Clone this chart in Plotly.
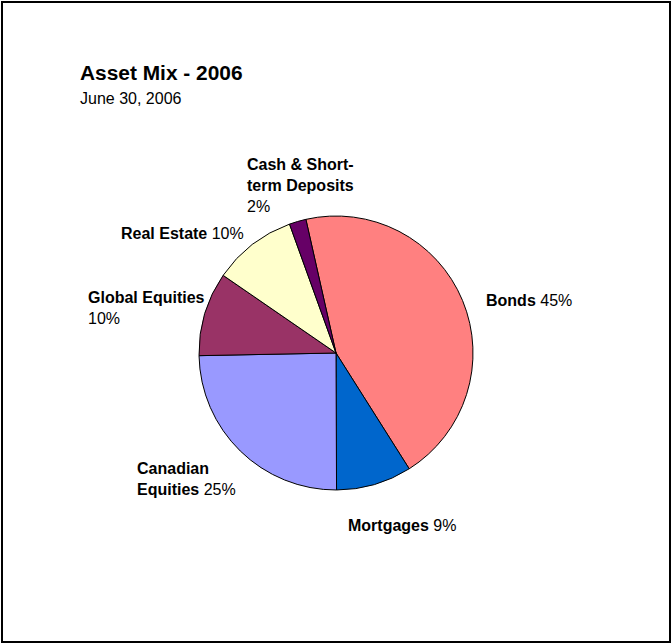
import plotly.graph_objects as go

# Asset mix as of June 30, 2006 (percent of total)
categories = ["Bonds", "Mortgages", "Canadian Equities", "Global Equities",
              "Real Estate", "Cash & Short-term Deposits"]
percentages = [45, 9, 25, 10, 10, 2]
colors = ["#FF8080", "#0066CC", "#9999FF", "#993366", "#FFFFCC", "#660066"]

# Wrapped label lines for each slice, and whether the percentage
# sits on its own line below the name
label_lines = [["Bonds"], ["Mortgages"], ["Canadian", "Equities"],
               ["Global Equities"], ["Real Estate"],
               ["Cash & Short-", "term Deposits"]]
pct_own_line = [False, False, False, True, False, True]
# Label anchor (left edge, vertical middle) in pixels from the top-left
label_pos = [(484, 300), (346, 525), (135, 479), (86, 308),
             (119, 233), (245, 185)]

W, H = 672, 644
FONT = "Arial, Liberation Sans, sans-serif"

fig = go.Figure(go.Pie(
    labels=categories,
    values=percentages,
    sort=False,
    direction="clockwise",
    rotation=-12.7,
    marker=dict(colors=colors, line=dict(color="black", width=1)),
    textinfo="none",
    hovertemplate="%{label}: %{value}%<extra></extra>",
    domain=dict(x=[199 / W, 473 / W], y=[1 - 490 / H, 1 - 216 / H]),
    showlegend=False,
))

annotations = [
    dict(text="<b>Asset Mix - 2006</b>", x=78 / W, y=1 - 73 / H,
         font=dict(size=20.9)),
    dict(text="June 30, 2006", x=78 / W, y=1 - 99 / H, font=dict(size=16)),
]
for lines, pct, own, (px, py) in zip(label_lines, percentages,
                                     pct_own_line, label_pos):
    bold = ["<b>%s</b>" % s for s in lines]
    if own:
        text = "<br>".join(bold) + "<br>%d%%" % pct
    else:
        text = "<br>".join(bold[:-1] + [bold[-1] + " %d%%" % pct])
    annotations.append(dict(text=text, x=px / W, y=1 - py / H,
                            font=dict(size=16)))

for a in annotations:
    a.update(xref="paper", yref="paper", xanchor="left", yanchor="middle",
             align="left", showarrow=False)

fig.update_layout(
    width=W, height=H,
    margin=dict(l=0, r=0, t=0, b=0),
    paper_bgcolor="white",
    plot_bgcolor="white",
    font=dict(family=FONT, color="black", size=16),
    annotations=annotations,
    shapes=[dict(type="rect", xref="paper", yref="paper",
                 x0=2 / W, x1=670 / W, y0=1 - 642 / H, y1=1 - 2 / H,
                 line=dict(color="black", width=2))],
)

fig.write_html("out.html")
